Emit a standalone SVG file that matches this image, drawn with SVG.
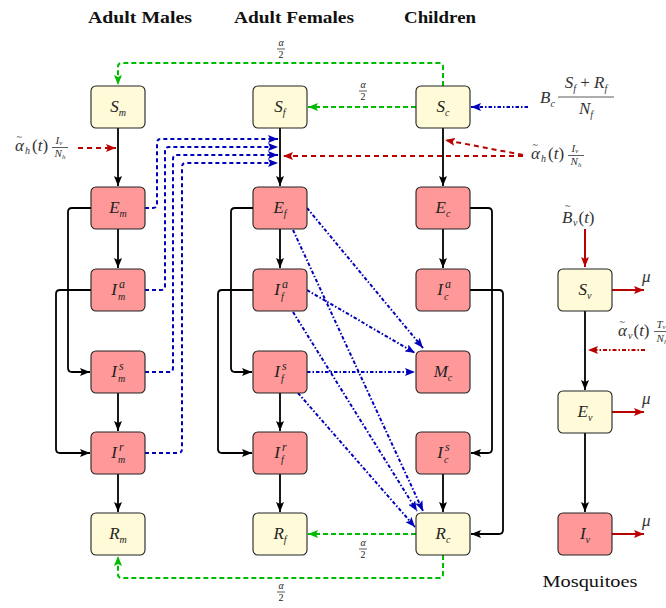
<svg xmlns="http://www.w3.org/2000/svg" width="666" height="608" viewBox="0 0 666 608">
<style>
.y{fill:#FFFAD7;stroke:#222;stroke-width:1.1}
.r{fill:#FF9999;stroke:#222;stroke-width:1.1}
.m{font-family:"Liberation Serif",serif;font-style:italic;font-size:17px;fill:#222}
.s{font-family:"Liberation Serif",serif;font-style:italic;font-size:10px;fill:#222}
.sup{font-family:"Liberation Serif",serif;font-style:italic;font-size:12px;fill:#222}
.h{font-family:"Liberation Serif",serif;font-weight:bold;font-size:17px;fill:#111}
.fr{font-family:"Liberation Serif",serif;font-style:italic;font-size:10px;fill:#222;text-anchor:middle}
.fr2{font-family:"Liberation Serif",serif;font-style:italic;font-size:11px;fill:#333;text-anchor:middle}
.frn{font-family:"Liberation Serif",serif;font-size:10px;fill:#222;text-anchor:middle}
.L{font-family:"Liberation Serif",serif;font-style:italic;font-size:17px;fill:#333}
.Lu{font-family:"Liberation Serif",serif;font-style:normal;font-size:17px;fill:#333}
.t{font-family:"Liberation Serif",serif;font-size:10px;fill:#333}
.k{fill:none;stroke:#000;stroke-width:1.8}
.g{fill:none;stroke:#00BB00;stroke-width:2;stroke-dasharray:5 3}
.bd{fill:none;stroke:#0000BB;stroke-width:2;stroke-dasharray:4 3}
.bdd{fill:none;stroke:#0000BB;stroke-width:2;stroke-dasharray:3.5 2 1.5 2}
.rd{fill:none;stroke:#BB0000;stroke-width:2;stroke-dasharray:5 4}
.rdd{fill:none;stroke:#BB0000;stroke-width:2;stroke-dasharray:4 2 1.5 2}
.rs{fill:none;stroke:#BB0000;stroke-width:2}
.bar{stroke:#333;stroke-width:0.8}
</style>
<defs>
<marker id="ak" viewBox="0 0 10 8" refX="10" refY="4" markerWidth="10" markerHeight="8" markerUnits="userSpaceOnUse" orient="auto"><path d="M0,0 L10,4 L0,8 L2,4 z" fill="#000"/></marker>
<marker id="ag" viewBox="0 0 10 8" refX="10" refY="4" markerWidth="10" markerHeight="8" markerUnits="userSpaceOnUse" orient="auto"><path d="M0,0 L10,4 L0,8 L2,4 z" fill="#00BB00"/></marker>
<marker id="ab" viewBox="0 0 10 8" refX="10" refY="4" markerWidth="10" markerHeight="8" markerUnits="userSpaceOnUse" orient="auto"><path d="M0,0 L10,4 L0,8 L2,4 z" fill="#0000BB"/></marker>
<marker id="ar" viewBox="0 0 10 8" refX="10" refY="4" markerWidth="10" markerHeight="8" markerUnits="userSpaceOnUse" orient="auto"><path d="M0,0 L10,4 L0,8 L2,4 z" fill="#BB0000"/></marker>
</defs>

<!-- headers -->
<text class="h" x="140" y="23" text-anchor="middle" textLength="104" lengthAdjust="spacingAndGlyphs">Adult Males</text>
<text class="h" x="294" y="23" text-anchor="middle" textLength="120" lengthAdjust="spacingAndGlyphs">Adult Females</text>
<text class="h" x="440" y="23" text-anchor="middle" textLength="72" lengthAdjust="spacingAndGlyphs">Children</text>
<text class="Lu" x="590" y="587" text-anchor="middle" textLength="95" lengthAdjust="spacingAndGlyphs" style="font-size:17px;fill:#111">Mosquitoes</text>

<g id="connectors">
<!-- black flows: males -->
<path class="k" d="M118,128 V186" marker-end="url(#ak)"/>
<path class="k" d="M118,229 V268" marker-end="url(#ak)"/>
<path class="k" d="M118,393 V431" marker-end="url(#ak)"/>
<path class="k" d="M118,474 V512" marker-end="url(#ak)"/>
<path class="k" d="M91,208 H72 Q68,208 68,212 V368 Q68,372 72,372 H90" marker-end="url(#ak)"/>
<path class="k" d="M91,290 H60 Q56,290 56,294 V449 Q56,453 60,453 H90" marker-end="url(#ak)"/>
<!-- females -->
<path class="k" d="M280,128 V186" marker-end="url(#ak)"/>
<path class="k" d="M280,229 V268" marker-end="url(#ak)"/>
<path class="k" d="M280,393 V431" marker-end="url(#ak)"/>
<path class="k" d="M280,474 V512" marker-end="url(#ak)"/>
<path class="k" d="M253,208 H235 Q231,208 231,212 V368 Q231,372 235,372 H252" marker-end="url(#ak)"/>
<path class="k" d="M253,290 H222 Q218,290 218,294 V449 Q218,453 222,453 H252" marker-end="url(#ak)"/>
<!-- children -->
<path class="k" d="M443,128 V186" marker-end="url(#ak)"/>
<path class="k" d="M443,229 V268" marker-end="url(#ak)"/>
<path class="k" d="M443,474 V512" marker-end="url(#ak)"/>
<path class="k" d="M470,208 H488 Q492,208 492,212 V449 Q492,453 488,453 H471" marker-end="url(#ak)"/>
<path class="k" d="M470,290 H499 Q503,290 503,294 V530 Q503,534 499,534 H471" marker-end="url(#ak)"/>
<!-- mosquitoes -->
<path class="k" d="M585,311 V390" marker-end="url(#ak)"/>
<path class="k" d="M585,433 V512" marker-end="url(#ak)"/>
<path class="rs" d="M585,229 V267" marker-end="url(#ar)"/>
<path class="rs" d="M612,290 H644" marker-end="url(#ar)"/>
<path class="rs" d="M612,412 H644" marker-end="url(#ar)"/>
<path class="rs" d="M612,534 H644" marker-end="url(#ar)"/>
<path class="rdd" d="M645,350 H588" marker-end="url(#ar)"/>

<!-- green aging flows -->
<path class="g" d="M443,86 V67 Q443,63 439,63 H122 Q118,63 118,67 V85" marker-end="url(#ag)"/>
<path class="g" d="M416,107 H308" marker-end="url(#ag)"/>
<path class="g" d="M416,534 H308" marker-end="url(#ag)"/>
<path class="g" d="M443,555 V574 Q443,578 439,578 H122 Q118,578 118,574 V556" marker-end="url(#ag)"/>

<!-- blue male transmission -->
<path class="bd" d="M145,208 H153 Q157,208 157,204 V143 Q157,139 161,139 H278" marker-end="url(#ab)"/>
<path class="bd" d="M145,290 H161 Q165,290 165,286 V151 Q165,147 169,147 H278" marker-end="url(#ab)"/>
<path class="bd" d="M145,372 H169 Q173,372 173,368 V159 Q173,155 177,155 H278" marker-end="url(#ab)"/>
<path class="bd" d="M145,453 H178 Q182,453 182,449 V167 Q182,163 186,163 H278" marker-end="url(#ab)"/>

<!-- blue female to children -->
<path class="bdd" d="M307,208 L423,348" marker-end="url(#ab)"/>
<path class="bdd" d="M307,290 L415,353" marker-end="url(#ab)"/>
<path class="bdd" d="M307,372 H415" marker-end="url(#ab)"/>
<path class="bdd" d="M293,230 L423,511" marker-end="url(#ab)"/>
<path class="bdd" d="M293,312 L417,511" marker-end="url(#ab)"/>
<path class="bdd" d="M298,393 L415,527" marker-end="url(#ab)"/>
<path class="bdd" d="M528,107 H471" marker-end="url(#ab)"/>

<!-- red infection from mosquitoes -->
<path class="rd" d="M78,148 H116" marker-end="url(#ar)"/>
<path class="rd" d="M523,156 H283" marker-end="url(#ar)"/>
<path class="rd" d="M523,155 L445,140" marker-end="url(#ar)"/>
</g>

<!-- fraction labels alpha/2 -->
<g id="lab-top"><text class="fr" x="281" y="46">α</text><line class="bar" x1="277" y1="49" x2="285" y2="49"/><text class="frn" x="281" y="58">2</text></g>
<g id="lab-sf"><text class="fr" x="363" y="88">α</text><line class="bar" x1="359" y1="91" x2="367" y2="91"/><text class="frn" x="363" y="100">2</text></g>
<g id="lab-rf"><text class="fr" x="363" y="546">α</text><line class="bar" x1="359" y1="549" x2="367" y2="549"/><text class="frn" x="363" y="558">2</text></g>
<g id="lab-bot"><text class="fr" x="281" y="589">α</text><line class="bar" x1="277" y1="592" x2="285" y2="592"/><text class="frn" x="281" y="601">2</text></g>

<!-- external rate labels -->
<g id="lab-alpha-h-left">
<text class="L" x="15" y="151">α</text><text class="t" x="16.5" y="140">~</text>
<text class="L" x="25" y="151"><tspan style="font-size:10px" dy="3">h</tspan><tspan class="Lu" dy="-3" dx="2">(</tspan>t<tspan class="Lu">)</tspan></text>
<text class="fr2" x="59" y="144">I<tspan style="font-size:7px" dy="1">v</tspan></text>
<line class="bar" x1="52" y1="147.5" x2="68" y2="147.5"/>
<text class="fr2" x="60" y="157">N<tspan style="font-size:7px" dy="1.5">h</tspan></text>
</g>
<g id="lab-alpha-h-right">
<text class="L" x="531" y="159">α</text><text class="t" x="532.5" y="148">~</text>
<text class="L" x="541" y="159"><tspan style="font-size:10px" dy="3">h</tspan><tspan class="Lu" dy="-3" dx="2">(</tspan>t<tspan class="Lu">)</tspan></text>
<text class="fr2" x="575" y="152">I<tspan style="font-size:7px" dy="1">v</tspan></text>
<line class="bar" x1="568" y1="155.5" x2="584" y2="155.5"/>
<text class="fr2" x="576" y="165">N<tspan style="font-size:7px" dy="1.5">h</tspan></text>
</g>
<g id="lab-Bc">
<text class="L" x="540" y="103">B<tspan style="font-size:10px" dy="4">c</tspan></text>
<text class="L" x="586" y="88" text-anchor="middle">S<tspan style="font-size:10px" dy="4">f</tspan><tspan class="Lu" dy="-4"> + </tspan>R<tspan style="font-size:10px" dy="4">f</tspan></text>
<line class="bar" x1="558" y1="97" x2="614" y2="97"/>
<text class="L" x="586" y="114" text-anchor="middle">N<tspan style="font-size:10px" dy="4">f</tspan></text>
</g>
<g id="lab-Bv">
<text class="L" x="562" y="223">B</text><text class="t" x="565" y="209">~</text>
<text class="L" x="573" y="223"><tspan style="font-size:10px" dy="3">v</tspan><tspan class="Lu" dy="-3" dx="1">(</tspan>t<tspan class="Lu">)</tspan></text>
</g>
<g id="lab-alpha-v">
<text class="L" x="618" y="336">α</text><text class="t" x="619.5" y="325">~</text>
<text class="L" x="628" y="336"><tspan style="font-size:10px" dy="3">v</tspan><tspan class="Lu" dy="-3" dx="1">(</tspan>t<tspan class="Lu">)</tspan></text>
<text class="fr2" x="661" y="328">T<tspan style="font-size:7px" dy="1">v</tspan></text>
<line class="bar" x1="654" y1="331.5" x2="672" y2="331.5"/>
<text class="fr2" x="662" y="342">N<tspan style="font-size:7px" dy="1.5">h</tspan></text>
</g>
<text class="L" x="642" y="282">μ</text>
<text class="L" x="642" y="404">μ</text>
<text class="L" x="642" y="526">μ</text>

<!-- nodes -->
<g id="Sm"><rect class="y" x="91" y="86" width="54" height="42" rx="5"/><text class="m" x="118" y="112" text-anchor="middle">S<tspan class="s" dy="4">m</tspan></text></g>
<g id="Em"><rect class="r" x="91" y="187" width="54" height="42" rx="5"/><text class="m" x="118" y="213" text-anchor="middle">E<tspan class="s" dy="4">m</tspan></text></g>
<g id="Iam"><rect class="r" x="91" y="269" width="54" height="42" rx="5"/><text class="m" x="114" y="295" text-anchor="middle">I</text><text class="sup" x="119" y="288">a</text><text class="s" x="118" y="300">m</text></g>
<g id="Ism"><rect class="r" x="91" y="351" width="54" height="42" rx="5"/><text class="m" x="114" y="377" text-anchor="middle">I</text><text class="sup" x="119" y="370">s</text><text class="s" x="118" y="382">m</text></g>
<g id="Irm"><rect class="r" x="91" y="432" width="54" height="42" rx="5"/><text class="m" x="114" y="458" text-anchor="middle">I</text><text class="sup" x="119" y="451">r</text><text class="s" x="118" y="463">m</text></g>
<g id="Rm"><rect class="y" x="91" y="513" width="54" height="42" rx="5"/><text class="m" x="118" y="539" text-anchor="middle">R<tspan class="s" dy="4">m</tspan></text></g>

<g id="Sf"><rect class="y" x="253" y="86" width="54" height="42" rx="5"/><text class="m" x="280" y="112" text-anchor="middle">S<tspan class="s" dy="4">f</tspan></text></g>
<g id="Ef"><rect class="r" x="253" y="187" width="54" height="42" rx="5"/><text class="m" x="280" y="213" text-anchor="middle">E<tspan class="s" dy="4">f</tspan></text></g>
<g id="Iaf"><rect class="r" x="253" y="269" width="54" height="42" rx="5"/><text class="m" x="277" y="295" text-anchor="middle">I</text><text class="sup" x="282" y="288">a</text><text class="s" x="281" y="300">f</text></g>
<g id="Isf"><rect class="r" x="253" y="351" width="54" height="42" rx="5"/><text class="m" x="277" y="377" text-anchor="middle">I</text><text class="sup" x="282" y="370">s</text><text class="s" x="281" y="382">f</text></g>
<g id="Irf"><rect class="r" x="253" y="432" width="54" height="42" rx="5"/><text class="m" x="277" y="458" text-anchor="middle">I</text><text class="sup" x="282" y="451">r</text><text class="s" x="281" y="463">f</text></g>
<g id="Rf"><rect class="y" x="253" y="513" width="54" height="42" rx="5"/><text class="m" x="280" y="539" text-anchor="middle">R<tspan class="s" dy="4">f</tspan></text></g>

<g id="Sc"><rect class="y" x="416" y="86" width="54" height="42" rx="5"/><text class="m" x="443" y="112" text-anchor="middle">S<tspan class="s" dy="4">c</tspan></text></g>
<g id="Ec"><rect class="r" x="416" y="187" width="54" height="42" rx="5"/><text class="m" x="443" y="213" text-anchor="middle">E<tspan class="s" dy="4">c</tspan></text></g>
<g id="Iac"><rect class="r" x="416" y="269" width="54" height="42" rx="5"/><text class="m" x="440" y="295" text-anchor="middle">I</text><text class="sup" x="445" y="288">a</text><text class="s" x="444" y="300">c</text></g>
<g id="Mc"><rect class="r" x="416" y="351" width="54" height="42" rx="5"/><text class="m" x="443" y="377" text-anchor="middle">M<tspan class="s" dy="4">c</tspan></text></g>
<g id="Isc"><rect class="r" x="416" y="432" width="54" height="42" rx="5"/><text class="m" x="440" y="458" text-anchor="middle">I</text><text class="sup" x="445" y="451">s</text><text class="s" x="444" y="463">c</text></g>
<g id="Rc"><rect class="y" x="416" y="513" width="54" height="42" rx="5"/><text class="m" x="443" y="539" text-anchor="middle">R<tspan class="s" dy="4">c</tspan></text></g>

<g id="Sv"><rect class="y" x="558" y="269" width="54" height="42" rx="5"/><text class="m" x="585" y="295" text-anchor="middle">S<tspan class="s" dy="4">v</tspan></text></g>
<g id="Ev"><rect class="y" x="558" y="391" width="54" height="42" rx="5"/><text class="m" x="585" y="417" text-anchor="middle">E<tspan class="s" dy="4">v</tspan></text></g>
<g id="Iv"><rect class="r" x="558" y="513" width="54" height="42" rx="5"/><text class="m" x="585" y="539" text-anchor="middle">I<tspan class="s" dy="4">v</tspan></text></g>
</svg>
